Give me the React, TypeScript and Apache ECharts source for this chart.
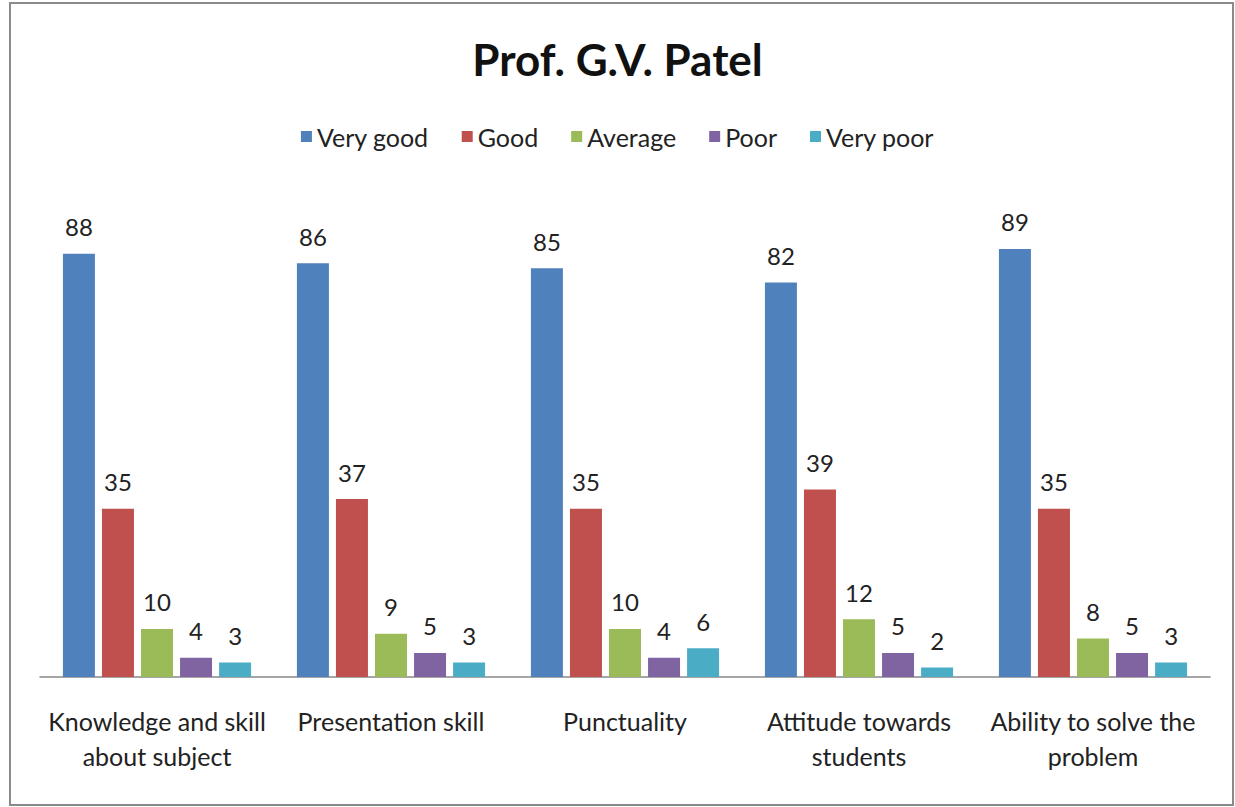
import React, { useEffect, useRef } from "react";
import * as echarts from "echarts";

const categories = [
  "Knowledge and skill\nabout subject",
  "Presentation skill",
  "Punctuality",
  "Attitude towards\nstudents",
  "Ability to solve the\nproblem",
];
const seriesNames = ["Very good", "Good", "Average", "Poor", "Very poor"];
const veryGood = [88, 86, 85, 82, 89];
const good = [35, 37, 35, 39, 35];
const average = [10, 9, 10, 12, 8];
const poor = [4, 5, 4, 5, 5];
const veryPoor = [3, 3, 6, 2, 3];
const colors = ["#4F81BD", "#C0504D", "#9BBB59", "#8064A2", "#4BACC6"];

const FONT = "Lato, 'Open Sans', sans-serif";

export default function App() {
  const ref = useRef<HTMLDivElement>(null);
  useEffect(() => {
    if (!ref.current) return;
    const chart = echarts.init(ref.current, undefined, { renderer: "svg" });
    const values = [veryGood, good, average, poor, veryPoor];
    chart.setOption({
      animation: false,
      backgroundColor: "#ffffff",
      textStyle: { fontFamily: FONT },
      title: {
        text: "Prof. G.V. Patel",
        left: "center",
        top: 32,
        textStyle: { fontFamily: FONT, fontSize: 44, fontWeight: "bold", color: "#111" },
      },
      legend: {
        top: 119,
        left: "center",
        itemWidth: 11,
        itemHeight: 11,
        itemGap: 33,
        icon: "rect",
        textStyle: { fontFamily: FONT, fontSize: 25, color: "#222" },
        data: seriesNames,
      },
      graphic: [
        {
          type: "rect",
          shape: { x: 10, y: 3, width: 1223, height: 802 },
          style: { fill: "none", stroke: "#8a8a8a", lineWidth: 2 },
          silent: true,
        },
      ],
      grid: { left: 40, right: 25, top: 196, bottom: 130 },
      xAxis: {
        type: "category",
        data: categories,
        axisLine: { lineStyle: { color: "#888", width: 1.5 } },
        axisTick: { show: false },
        axisLabel: {
          interval: 0,
          margin: 26,
          fontFamily: FONT,
          fontSize: 25,
          color: "#222",
          lineHeight: 35,
          verticalAlign: "top",
        },
      },
      yAxis: {
        type: "value",
        min: 0,
        max: 100,
        show: false,
        splitLine: { show: false },
      },
      series: values.map((v, i) => ({
        name: seriesNames[i],
        type: "bar",
        data: v,
        barWidth: 32,
        barGap: "22%",
        itemStyle: { color: colors[i] },
        label: {
          show: true,
          position: "top",
          distance: 15,
          fontFamily: FONT,
          fontSize: 24,
          color: "#222",
        },
      })),
    });
    return () => chart.dispose();
  }, []);
  return (
    <div
      ref={ref}
      style={{ position: "fixed", left: 0, top: 0, width: 1235, height: 807 }}
    />
  );
}
